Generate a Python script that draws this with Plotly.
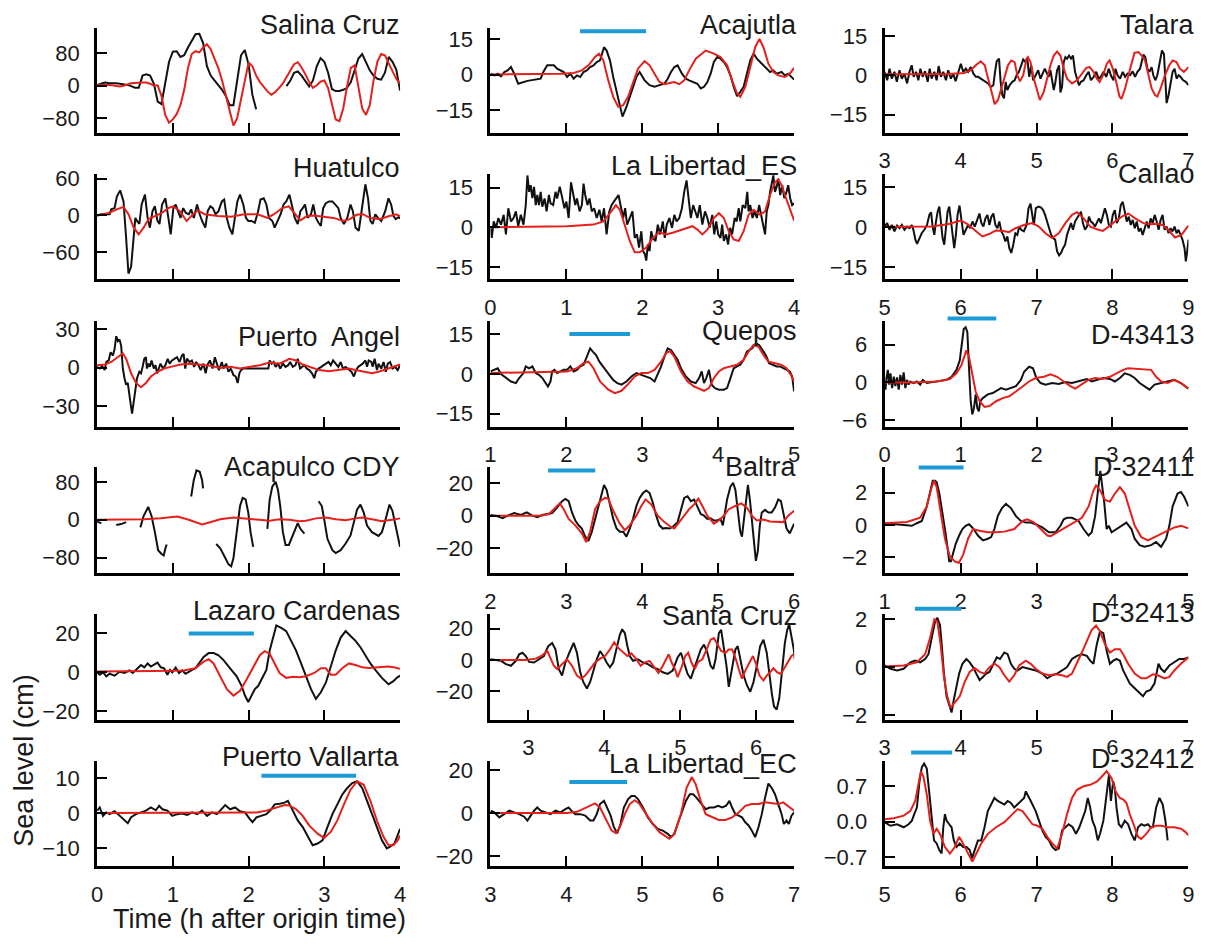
import plotly.graph_objects as go

# ------------------------------------------------------------------ data
# Salina Cruz on a regular 0.05 h grid (None = gap in the record)
salina_t = [round(0.05 * i, 2) for i in range(81)]
salina_obs = [2, 6, 8, 7, 7, 6, 5, 4, 2, -1,
              -5, -5, 25, 28, 25, 5, -39, -45, 5, 59,
              84, 85, 71, 75, 94, 112, 127, 128, 105, 48,
              25, 13, 2, -10, -25, -48, -48, 13, 75, 88,
              52, -22, -58, None, None, None, None, None, None, None,
              -1, 12, 32, 35, 25, 12, -2, 13, 48, 68,
              59, 32, -8, -13, -13, -10, -5, 9, 36, 67,
              78, 59, 38, 25, 17, 15, 32, 71, 59, 40, -12]
salina_sim = [2, 2, 3, 2, 1, -1, -2, 0, 4, 6,
              7, 8, 8, 8, 5, 0, 1, -25, -72, -91,
              -83, -70, -48, -10, 44, 78, 85, 82, 94, 102,
              90, 67, 44, 13, -22, -64, -98, -79, -33, 17,
              57, 48, 25, 9, -2, -14, -22, -16, -6, 5,
              21, 36, 53, 58, 45, 28, 9, -5, 1, 10,
              13, -6, -48, -83, -87, -56, -2, 44, 50, -2,
              -56, -72, -48, 13, 59, 78, 75, 55, 36, 17, 5]

huatulco_obs = [(0, 0), (0.057, 2), (0.166, 2), (0.187, 10), (0.231, 12), (0.261, 31), (0.305, 41), (0.349, 23),
                (0.383, -36), (0.414, -95), (0.449, -84), (0.484, -25), (0.505, -4), (0.527, -9), (0.558, -14),
                (0.588, 18), (0.632, 34), (0.667, -4), (0.697, -20), (0.732, 7), (0.763, 15), (0.797, -9),
                (0.824, -14), (0.858, 18), (0.902, 28), (0.941, -4), (0.972, -31), (1.007, 12), (1.037, 18),
                (1.068, 7), (1.102, -4), (1.137, 12), (1.172, 4), (1.211, 2), (1.242, 10), (1.277, -4), (1.320, 18),
                (1.355, 2), (1.386, -9), (1.429, -20), (1.460, 7), (1.495, 15), (1.529, 12), (1.564, 2), (1.603, 7),
                (1.647, 23), (1.678, 26), (1.712, -4), (1.747, -20), (1.786, -31), (1.821, 2), (1.852, 23),
                (1.887, 34), (1.930, 18), (1.965, -4), (1.996, -9), (2.039, -9), (2.083, -12), (2.126, 7),
                (2.157, 26), (2.200, 28), (2.235, 18), (2.270, -4), (2.314, -9), (2.344, -20), (2.388, -9),
                (2.423, 2), (2.462, 18), (2.497, 23), (2.540, 34), (2.575, 12), (2.610, -4), (2.649, -14),
                (2.684, 7), (2.715, 12), (2.745, 18), (2.780, -4), (2.824, 2), (2.854, 18), (2.889, -4),
                (2.924, -12), (2.954, -17), (2.985, 12), (3.020, 20), (3.063, 23), (3.107, 23), (3.142, 18),
                (3.185, 12), (3.216, -4), (3.259, -14), (3.303, -4), (3.346, 18), (3.377, 7), (3.412, -20),
                (3.455, -25), (3.499, 18), (3.542, 51), (3.577, 28), (3.608, -9), (3.638, -14), (3.673, 2),
                (3.708, -4), (3.752, -9), (3.804, 7), (3.847, 28), (3.882, 18), (3.913, -1), (3.943, -6),
                (3.978, -3), (4.0, -5)]
huatulco_sim = [(0, 0), (0.151, 4), (0.261, 10), (0.349, 14), (0.414, 2), (0.484, -20), (0.549, -31), (0.614, -20),
                (0.680, -6), (0.767, -1), (0.854, 4), (0.941, 12), (1.007, 15), (1.094, 7), (1.181, -9), (1.268, 2),
                (1.333, 8), (1.420, 2), (1.595, -1), (1.769, -2), (1.943, 2), (2.118, 2), (2.248, -4), (2.335, 2),
                (2.444, 12), (2.531, 15), (2.618, 2), (2.684, -8), (2.771, -1), (2.858, 0), (2.989, -2),
                (3.120, -4), (3.250, -9), (3.337, -6), (3.425, 1), (3.512, 2), (3.599, -4), (3.730, -6),
                (3.860, -1), (3.948, 2), (4.0, -1)]

angel_obs = [(0, 0.5), (0.035, -0.8), (0.065, 1.3), (0.100, -2), (0.122, 4.3), (0.153, 5.5), (0.179, 11.8),
             (0.209, 9.3), (0.231, 14.3), (0.253, 24.3), (0.275, 20.5), (0.296, 21.8), (0.318, 16.8), (0.340, -0.8),
             (0.362, -8.3), (0.383, -13.3), (0.405, -12), (0.427, -23.3), (0.449, -30.8), (0.462, -35.8),
             (0.484, -25.8), (0.505, -15.8), (0.527, -8.3), (0.558, -3.3), (0.580, -4.5), (0.601, 0.5),
             (0.623, 6.8), (0.645, 8), (0.658, -0.8), (0.680, 3), (0.697, 0.5), (0.719, 5.5), (0.749, -0.8),
             (0.771, 1.8), (0.793, -4.5), (0.815, -0.8), (0.837, 3), (0.871, -0.8), (0.902, 1.8), (0.932, 6.8),
             (0.958, 3), (0.989, 5.5), (1.020, 6.8), (1.055, 8), (1.089, 4.3), (1.120, 9.3), (1.142, 10.5),
             (1.164, -0.8), (1.185, 6.8), (1.220, 4.3), (1.251, 5.5), (1.281, 0.5), (1.307, 4.3), (1.338, 1.8),
             (1.368, -2), (1.403, 3), (1.433, -4.5), (1.455, 1.8), (1.490, 5.5), (1.525, -0.8), (1.555, 8),
             (1.577, 4.3), (1.608, -2), (1.647, 4.3), (1.669, -0.8), (1.704, 3), (1.734, -3.3), (1.765, -0.8),
             (1.800, -5.8), (1.830, -7), (1.856, -12), (1.878, -4.5), (1.900, -2), (1.930, -0.8), (2.017, -0.8),
             (2.104, -0.8), (2.192, -0.8), (2.261, -0.8), (2.278, 5.5), (2.305, 3), (2.331, 4.3), (2.357, 0.5),
             (2.388, 3), (2.418, -0.8), (2.453, 3), (2.488, 0.5), (2.523, 1.8), (2.549, 4.3), (2.584, 0.5),
             (2.619, 1.8), (2.649, 6.8), (2.680, -0.8), (2.706, 0.5), (2.737, 1.8), (2.767, -0.8), (2.802, -2),
             (2.837, -4.5), (2.867, -8.3), (2.889, -3.3), (2.924, -0.8), (2.959, 0.5), (2.989, 1.8), (3.020, 3),
             (3.055, 4.3), (3.085, 1.8), (3.116, 5.5), (3.150, 3), (3.185, 0.5), (3.216, 4.3), (3.246, -0.8),
             (3.281, 0.5), (3.325, -2), (3.359, -3.3), (3.390, -7), (3.420, -2), (3.446, 0.5), (3.477, 1.8),
             (3.507, 3), (3.542, 5.5), (3.564, 0.5), (3.586, 5.5), (3.621, 4.3), (3.638, 0.5), (3.664, 6.8),
             (3.695, -2), (3.716, 3), (3.751, -0.8), (3.782, 4.3), (3.812, -3.3), (3.838, 3), (3.869, 4.3),
             (3.900, -0.8), (3.934, 0.5), (3.969, -2), (4.0, 1.8)]
angel_sim = [(0, 1.8), (0.1, 2.3), (0.187, 4.3), (0.275, 8), (0.340, 11), (0.383, 6.8), (0.449, -4.5),
             (0.514, -12), (0.580, -15.3), (0.645, -12), (0.711, -7), (0.798, -3.3), (0.885, -0.8), (0.972, 0.5),
             (1.102, 2.3), (1.233, 3), (1.364, 2.3), (1.494, 1.3), (1.625, -0.3), (1.756, 0.5), (1.887, -0.8),
             (2.017, 0.5), (2.148, 1.8), (2.279, 3.8), (2.409, 3), (2.540, 6.8), (2.627, 5.5), (2.715, 2.3),
             (2.802, 0.5), (2.933, -2), (3.063, -2.8), (3.194, -2), (3.325, -0.8), (3.412, -2), (3.499, -2.8),
             (3.629, -4.5), (3.716, -3.3), (3.847, -0.8), (3.934, 1.3), (4.0, 2.3)]

acapulco_obs = [(0.0, -4), (0.057, -7), (None, None),
                (0.253, -11), (0.318, -9), (0.384, -5), (None, None),
                (0.571, -16), (0.614, 8), (0.675, 27), (0.719, 8), (0.763, -26), (0.806, -64), (0.850, -72),
                (0.880, -75), (0.902, -60), (0.919, -52), (None, None),
                (1.242, 49), (1.277, 84), (1.312, 104), (1.355, 101), (1.386, 84), (1.399, 66), (None, None),
                (1.573, -51), (1.626, -60), (1.691, -80), (1.735, -94), (1.770, -98), (1.800, -81), (1.843, -26),
                (1.887, 29), (1.922, 46), (1.961, 43), (1.996, 15), (2.026, -26), (2.061, -57), (None, None),
                (2.248, -19), (2.278, 42), (2.313, 70), (2.357, 80), (2.388, 63), (2.418, 29), (2.453, -26),
                (2.488, -53), (2.532, -53), (2.567, -40), (2.606, -23), (2.649, -7), (2.684, -19), (2.737, -29),
                (None, None),
                (2.924, 39), (2.967, 29), (2.998, 1), (3.041, -40), (3.107, -64), (3.150, -70), (3.216, -64),
                (3.281, -50), (3.346, -33), (3.390, -5), (3.433, 22), (3.477, 32), (3.521, 15), (3.564, -12),
                (3.629, -26), (3.716, -34), (3.760, -26), (3.804, -2), (3.860, 32), (3.899, 19), (3.943, -12),
                (4.0, -57)]
acapulco_sim = [(0, 0), (0.318, 0), (0.624, 1), (0.841, 3), (1.059, 7), (1.190, 1), (1.320, -7), (1.386, -10),
                (1.494, -5), (1.625, 1), (1.800, 5), (1.974, 3), (2.148, 1), (2.279, -2), (2.409, 1), (2.540, 0),
                (2.671, -3), (2.758, -2), (2.889, 3), (3.020, 5), (3.150, 1), (3.281, -1), (3.412, 3), (3.499, 5),
                (3.629, 1), (3.760, -3), (3.891, 0), (4.0, 3)]

lazaro_obs = [(0, 0), (0.035, -1.2), (0.078, 0), (0.122, -2), (0.166, -0.7), (0.231, -1.7), (0.296, 0.3),
              (0.362, -0.3), (0.427, 1), (0.471, -0.3), (0.536, 2.1), (0.580, 3.8), (0.623, 2.6), (0.667, 4.6),
              (0.710, 3), (0.754, 3.8), (0.797, 5), (0.841, 2.6), (0.885, 2.1), (0.928, -1.2), (0.963, 1.3),
              (0.993, 0), (1.037, 2.5), (1.081, -0.3), (1.124, 1), (1.168, -0.7), (1.211, 0.5), (1.255, 1.3),
              (1.298, 2.1), (1.342, 4.6), (1.407, 7.9), (1.473, 9.9), (1.538, 9.9), (1.603, 8.8), (1.669, 6.3),
              (1.756, 2.1), (1.843, -2), (1.909, -7), (1.952, -11.9), (1.996, -15.2), (2.039, -11.9),
              (2.083, -8.6), (2.126, -7), (2.170, -3.6), (2.235, 1.3), (2.279, 11.2), (2.322, 17.9),
              (2.366, 24.1), (2.431, 22.8), (2.497, 21.2), (2.562, 16.2), (2.627, 11.2), (2.693, 4.6),
              (2.758, -2), (2.824, -8.6), (2.889, -13.6), (2.954, -10.2), (3.020, -5.3), (3.085, 3),
              (3.150, 11.2), (3.216, 17.9), (3.281, 21.2), (3.346, 18.7), (3.412, 16.2), (3.477, 12.9),
              (3.542, 8.8), (3.608, 4.6), (3.673, 1.3), (3.760, -2.8), (3.847, -6.1), (3.912, -4.5),
              (3.956, -2.8), (4.0, -1.7)]
lazaro_sim = [(0, 0.5), (0.318, 0.5), (0.753, 0.7), (1.145, 1), (1.298, 2.1), (1.407, 5.5), (1.473, 6.8),
              (1.538, 4.6), (1.626, -2), (1.713, -8.6), (1.800, -11.9), (1.887, -9.4), (1.974, -3.6), (2.061, 3),
              (2.148, 8.8), (2.213, 10.9), (2.279, 9.6), (2.344, 4.6), (2.409, -0.3), (2.497, -2.8),
              (2.584, -2.3), (2.671, -2.5), (2.758, -2), (2.867, -0.3), (2.954, 2.1), (3.020, 2.1),
              (3.085, -1.2), (3.150, -1.2), (3.237, 2.1), (3.325, 4.6), (3.412, 3.8), (3.499, 2.6), (3.586, 2.3),
              (3.716, 2.6), (3.847, 3), (3.934, 2.5), (4.0, 1.8)]

vallarta_obs = [(0, 0.7), (0.035, 1.6), (0.078, -0.8), (0.122, 0.2), (0.166, -0.3), (0.231, 0.5), (0.275, -0.3),
                (0.318, -1.2), (0.362, -2.1), (0.405, -2.9), (0.449, -1.2), (0.514, -0.3), (0.580, 0.2),
                (0.645, 0.7), (0.710, 1.6), (0.776, 0.8), (0.819, 2.1), (0.863, 1.1), (0.928, 0.7), (0.993, -0.8),
                (1.059, -0.3), (1.124, -0.1), (1.190, -0.5), (1.255, 0.2), (1.320, -0.3), (1.386, 0.7),
                (1.451, -0.8), (1.516, 0.2), (1.582, -0.3), (1.647, 1.1), (1.691, 2.3), (1.756, 1.1), (1.821, 1.6),
                (1.887, 0.5), (1.952, 0.2), (2.017, -1.7), (2.052, -2.6), (2.104, -1.2), (2.170, -0.8),
                (2.235, -0.3), (2.300, 1.1), (2.344, 2.5), (2.409, 2.7), (2.475, 3.0), (2.519, 3.5), (2.584, 0.7),
                (2.649, -2.1), (2.715, -4.0), (2.780, -6.8), (2.846, -9.2), (2.911, -8.7), (2.976, -7.8),
                (3.041, -4.0), (3.107, -0.3), (3.172, 2.5), (3.237, 5.3), (3.303, 7.2), (3.368, 8.6),
                (3.433, 9.1), (3.499, 7.2), (3.564, 3.5), (3.629, -0.3), (3.695, -4.0), (3.760, -7.8),
                (3.825, -10.1), (3.869, -9.6), (3.926, -8.7), (3.969, -6.4), (4.0, -4.5)]
vallarta_sim = [(0, 0), (0.972, 0), (1.843, 0), (2.104, 0.2), (2.235, 0.7), (2.366, 1.6), (2.475, 2.3),
                (2.540, 2.2), (2.627, 1.1), (2.715, -0.8), (2.802, -3.6), (2.911, -5.9), (2.998, -7.1),
                (3.085, -5.4), (3.172, -2.1), (3.259, 2.5), (3.346, 6.7), (3.433, 9.1), (3.520, 8.1), (3.608, 3.5),
                (3.695, -2.2), (3.782, -6.8), (3.847, -9.2), (3.912, -9.2), (3.969, -7.8), (4.0, -6.4)]

acajutla_obs = [(0, 0.4), (0.052, -0.3), (0.096, 0.4), (0.139, -0.7), (0.183, 1.1), (0.226, 1.8), (0.270, 3.2),
                (0.313, 0.4), (0.365, -3.8), (0.487, -2.6), (0.661, -1.7), (0.696, 1.1), (0.748, 3.9),
                (0.835, 3.9), (0.878, 2.5), (0.922, 1.8), (0.965, 1.1), (1.009, -1), (1.052, 0.4), (1.096, -1.7),
                (1.139, -0.3), (1.183, -1), (1.226, 1.1), (1.270, 1.8), (1.313, 3.2), (1.357, 3.9), (1.400, 5.3),
                (1.443, 6), (1.496, 11.5), (1.530, 10.1), (1.574, 6), (1.617, -1), (1.683, -10.7), (1.739, -17.6),
                (1.791, -13.5), (1.835, -9.3), (1.878, -5.1), (1.922, -1), (1.965, 1.1), (2.030, -2.4),
                (2.096, -4.4), (2.161, -5.1), (2.226, -4.4), (2.291, -3.8), (2.335, -1.7), (2.378, 1.1),
                (2.422, 3.2), (2.465, 3.9), (2.522, 0.4), (2.574, -1.7), (2.617, -2.4), (2.661, -3.1),
                (2.726, -3.8), (2.770, -5.8), (2.813, -5.1), (2.857, -3.1), (2.900, 0.4), (2.943, 5.3),
                (2.987, 7.4), (3.030, 6.7), (3.074, 5.3), (3.117, 3.2), (3.161, -0.3), (3.204, -5.1), (3.248, -9),
                (3.291, -7.2), (3.335, -5.1), (3.378, 0.4), (3.422, 6), (3.465, 8.8), (3.509, 6.7), (3.552, 5.3),
                (3.596, 3.9), (3.639, 2.5), (3.683, 1.1), (3.726, 1.8), (3.770, 0.4), (3.835, 1.1), (3.878, -0.3),
                (3.922, 0.4), (3.965, -1), (4.0, -2.1)]
acajutla_sim = [(0, 0.1), (0.574, 0.1), (0.922, 0.4), (1.096, 0.7), (1.204, 1.8), (1.291, 3.9), (1.378, 7.4),
                (1.430, 8.8), (1.487, 6), (1.552, -2.4), (1.617, -9.3), (1.683, -13.5), (1.748, -12.8),
                (1.813, -9.3), (1.878, -3.8), (1.943, 2.5), (2.030, 5.7), (2.096, 3.9), (2.161, 0.4),
                (2.226, -3.1), (2.291, -4), (2.357, -3.5), (2.422, -3.1), (2.487, -4), (2.552, -2.4), (2.617, 1.8),
                (2.704, 6.7), (2.835, 10.1), (2.943, 8.8), (3.030, 7.4), (3.117, 3.9), (3.183, -2.4),
                (3.248, -7.9), (3.291, -9.3), (3.357, -5.1), (3.422, 3.2), (3.487, 11.5), (3.543, 15),
                (3.596, 11.5), (3.661, 4.6), (3.726, 1.1), (3.791, -0.3), (3.878, -1), (3.943, 0.4), (4.0, 2.8)]

libertad_es_obs = [(0, 0), (0.017, -4), (0.043, 2.2), (0.074, -0.2), (0.104, 3.5), (0.139, 1), (0.174, 4.7),
                   (0.204, -2.7), (0.235, 7.2), (0.270, 2.2), (0.304, 3.5), (0.335, 6), (0.365, 0.4), (0.400, 4.7),
                   (0.435, 1), (0.465, 8.4), (0.487, 19.6), (0.509, 13.4), (0.530, 15.9), (0.552, 11),
                   (0.574, 15.3), (0.596, 8.4), (0.617, 12.2), (0.639, 8.4), (0.661, 13.4), (0.683, 7.8),
                   (0.713, 10.9), (0.739, 6), (0.770, 12.2), (0.791, 9.1), (0.826, 8.4), (0.857, 13.4),
                   (0.878, 10.9), (0.913, 15.3), (0.943, 11.5), (0.974, 7.2), (1.000, 9.7), (1.030, 3.5),
                   (1.061, 17), (1.087, 13.4), (1.117, 8.4), (1.139, 10.9), (1.174, 6), (1.204, 8.4), (1.226, 16.5),
                   (1.248, 12.2), (1.278, 8.4), (1.304, 10.9), (1.335, 6), (1.365, 7.2), (1.400, 3.5), (1.435, 6.6),
                   (1.465, 2.2), (1.496, 7.2), (1.530, -2.7), (1.565, 6), (1.596, 8.4), (1.626, 9.7), (1.661, 10.9),
                   (1.687, 12.2), (1.713, 8.4), (1.748, 3.5), (1.774, 7.2), (1.800, 1), (1.835, 3.5), (1.870, 6),
                   (1.900, -4), (1.930, -2.7), (1.957, -7.7), (1.987, -1.5), (2.009, -9), (2.035, -10.2),
                   (2.052, -12.6), (2.074, -6.5), (2.096, -9), (2.117, -1.5), (2.139, -4), (2.174, -5.2), (2.204, 1),
                   (2.235, -2.7), (2.270, 2.2), (2.296, -4), (2.322, 1), (2.357, 3.5), (2.391, -0.2), (2.422, 4.7),
                   (2.452, 2.2), (2.487, 3.5), (2.522, 7.2), (2.552, 13.4), (2.583, 17.7), (2.609, 11), (2.639, 3.5),
                   (2.670, 8.4), (2.696, 6), (2.726, 3.5), (2.757, 8.4), (2.791, 1), (2.826, 6), (2.857, 3.5),
                   (2.887, -0.2), (2.922, 4.7), (2.948, -2.7), (2.974, 2.2), (3.000, -2.7), (3.030, -4), (3.052, 1),
                   (3.074, -5.2), (3.104, -2.7), (3.130, -6.5), (3.157, -0.2), (3.183, -2.7), (3.217, 3.5),
                   (3.243, 2.2), (3.270, 7.2), (3.291, 2.2), (3.322, 8.4), (3.357, 7.2), (3.383, 13.4), (3.400, 6),
                   (3.422, 8.4), (3.452, 3.5), (3.478, 6), (3.509, 3.5), (3.539, 8.4), (3.565, 4.7), (3.591, 1),
                   (3.617, -2.7), (3.639, 6), (3.661, 8.4), (3.683, 13.4), (3.704, 15.9), (3.726, 19.6),
                   (3.748, 13.4), (3.770, 15.3), (3.791, 18.4), (3.817, 12.2), (3.843, 15.9), (3.870, 11),
                   (3.900, 13.4), (3.922, 15.9), (3.948, 11), (3.974, 8.4), (4.000, 9.1)]
libertad_es_sim = [(0, 0), (0.574, 0.1), (1.009, 0.4), (1.357, 1), (1.487, 2.2), (1.574, 5.3), (1.652, 8.4),
                   (1.704, 6.6), (1.770, 1), (1.835, -5.2), (1.900, -9.5), (1.965, -9.5), (2.052, -7.7),
                   (2.139, -4), (2.226, -1.9), (2.313, -2.7), (2.400, -2.1), (2.487, -1.2), (2.574, -0.2),
                   (2.661, 0.4), (2.726, -0.9), (2.791, -2.7), (2.857, -0.9), (2.943, 3.5), (3.009, 5.3),
                   (3.074, 3.5), (3.139, -1.5), (3.204, -4.6), (3.270, -5.2), (3.335, -1.5), (3.400, 4.7),
                   (3.465, 6.6), (3.552, 4.7), (3.617, 6), (3.683, 12.2), (3.748, 17.1), (3.791, 18.1),
                   (3.835, 15.9), (3.878, 12.2), (3.922, 8.4), (3.965, 4.7), (4.0, 2.5)]

quepos_obs = [(1.000, 0.9), (1.052, 1.5), (1.096, 2.1), (1.139, -0.1), (1.204, -1.6), (1.270, -2.9), (1.335, -3.5),
              (1.378, -1.6), (1.435, 0.3), (1.465, 2.8), (1.509, 2.1), (1.552, 2.8), (1.596, 0.3), (1.639, -0.4),
              (1.683, -1.6), (1.726, -3.5), (1.757, -4.8), (1.791, -2.9), (1.813, 0.9), (1.843, 1.5),
              (1.878, 0.3), (1.922, 0.9), (1.965, 1.5), (2.009, 1.5), (2.052, 2.8), (2.096, 0.9), (2.139, 1.5),
              (2.183, 2.8), (2.226, 3.4), (2.270, 6.5), (2.313, 9.6), (2.348, 8.4), (2.391, 7.1), (2.435, 4.6),
              (2.478, 2.8), (2.522, 0.9), (2.565, -0.4), (2.617, -2.3), (2.670, -3.5), (2.726, -4.1),
              (2.791, -2.9), (2.857, -1), (2.922, 0.3), (2.987, -0.4), (3.052, -1), (3.104, -1.6), (3.161, -2.9),
              (3.204, -0.4), (3.248, 2.8), (3.291, 6.5), (3.335, 9.6), (3.378, 9), (3.422, 7.1), (3.465, 5.3),
              (3.509, 2.1), (3.574, -1), (3.639, -2.9), (3.704, -3.5), (3.748, -1.6), (3.783, 0.9),
              (3.813, -3.5), (3.843, -1.6), (3.878, 1.5), (3.913, -4.1), (3.957, -5.4), (4.009, -6),
              (4.074, -6), (4.117, -5.4), (4.161, -1.6), (4.204, 2.1), (4.248, 2.8), (4.291, 3.4), (4.335, 5.3),
              (4.378, 8.4), (4.443, 9.6), (4.496, 11.5), (4.539, 10.9), (4.583, 9), (4.626, 7.1), (4.670, 4),
              (4.713, 3.4), (4.770, 2.8), (4.813, 2.8), (4.857, 2.1), (4.900, 1.5), (4.943, 0.9), (4.974, -1),
              (5.000, -6.6)]
quepos_sim = [(1.0, 0.3), (1.574, 0.5), (2.009, 0.9), (2.139, 2.1), (2.226, 4), (2.291, 4.6), (2.357, 2.1),
              (2.443, -2.9), (2.552, -6), (2.639, -7.3), (2.726, -6.4), (2.813, -3.9), (2.900, -1), (2.987, 0.3),
              (3.074, 0.3), (3.161, 1.5), (3.248, 4.6), (3.313, 7.8), (3.365, 8.6), (3.422, 6.5), (3.509, 0.9),
              (3.596, -2.9), (3.683, -4.8), (3.748, -5.6), (3.813, -6.4), (3.878, -5.4), (3.943, -1.6),
              (4.009, 0.9), (4.074, 2.1), (4.161, 2.8), (4.248, 3.4), (4.335, 5.3), (4.400, 8.4), (4.465, 10.9),
              (4.530, 10.3), (4.596, 7.1), (4.661, 4.6), (4.748, 4), (4.835, 3.4), (4.900, 2.1), (4.957, -0.4),
              (5.0, -2.9)]

baltra_obs = [(2.000, 0.4), (2.096, -0.4), (2.161, -1.6), (2.226, 0), (2.313, 1.6), (2.400, 0.4), (2.478, 2),
              (2.552, 0), (2.617, -1), (2.683, 0.4), (2.748, 1), (2.813, 1.6), (2.878, 5), (2.943, 9),
              (2.987, 10.4), (3.030, 9), (3.074, 2), (3.117, -3), (3.161, -6), (3.204, -8), (3.248, -13),
              (3.291, -15.6), (3.335, -10), (3.378, -2), (3.422, 6), (3.465, 15), (3.496, 19), (3.530, 16),
              (3.574, 6), (3.617, -2), (3.661, -8), (3.704, -10), (3.748, -10), (3.791, -13), (3.835, -8),
              (3.878, -2), (3.922, 6), (3.965, 11), (4.009, 14), (4.052, 15.6), (4.096, 14), (4.139, 8),
              (4.183, 0), (4.226, -6), (4.270, -8), (4.313, -7.6), (4.357, -8), (4.400, -7), (4.465, -4),
              (4.509, 4), (4.552, 11), (4.596, 12), (4.639, 9), (4.683, 10), (4.726, 5), (4.770, 1), (4.813, 0),
              (4.857, -2), (4.900, -1.6), (4.943, -3), (4.987, -3), (5.030, -2), (5.061, -6), (5.087, 2),
              (5.117, 10), (5.161, 18), (5.196, 20.4), (5.226, 16), (5.261, 2), (5.291, -10), (5.313, -13),
              (5.339, -2), (5.365, 12), (5.391, 19), (5.417, 10), (5.443, -4), (5.470, -18), (5.496, -28),
              (5.522, -22), (5.548, -6), (5.574, 2), (5.617, 3.6), (5.661, 2), (5.704, 2), (5.748, 5),
              (5.791, 10), (5.826, 9), (5.857, 2), (5.900, -8), (5.943, -11), (5.974, -8), (6.000, -5)]
baltra_sim = [(2.0, 0), (2.357, 0), (2.661, 0), (2.770, 1), (2.857, 5), (2.913, 7.6), (2.965, 4), (3.030, -2),
              (3.117, -6), (3.204, -11), (3.261, -16.4), (3.313, -10), (3.378, 4), (3.443, 9), (3.509, 11),
              (3.552, 10.6), (3.617, 3), (3.704, -5), (3.770, -9), (3.835, -6), (3.922, 0), (3.987, 6),
              (4.043, 10), (4.117, 7), (4.204, 0), (4.291, -4), (4.378, -7), (4.422, -8), (4.487, -4), (4.552, 0),
              (4.617, 4), (4.683, 7), (4.739, 10.6), (4.791, 6), (4.857, 0), (4.943, -5), (5.009, -3),
              (5.074, 0), (5.139, 4), (5.226, 6), (5.304, 7.6), (5.378, 5), (5.443, 0), (5.509, -3),
              (5.596, -2.4), (5.683, -3.6), (5.770, -3.6), (5.857, -4), (5.922, 0), (6.0, 3)]

santacruz_obs = [(2.496, 0.4), (2.574, 0), (2.639, -0.6), (2.704, -2.7), (2.770, -3.8), (2.835, -0.6), (2.878, 3.6),
                 (2.922, 4.6), (2.965, 2.5), (3.009, -1.3), (3.074, -1.7), (3.139, 0.4), (3.204, 2.5),
                 (3.261, 8.8), (3.313, 10.9), (3.357, 6.7), (3.400, -5.9), (3.443, -10.1), (3.487, -1.7),
                 (3.539, 4.6), (3.596, 10.9), (3.639, 4.6), (3.683, -8), (3.722, -14.2), (3.770, -18.4),
                 (3.813, -14.2), (3.857, -5.9), (3.900, 0.4), (3.944, 5.7), (3.987, 2.5), (4.030, -1.7),
                 (4.074, -4.8), (4.117, -1.7), (4.161, 6.7), (4.204, 16.1), (4.235, 19.7), (4.270, 17.2),
                 (4.304, 8.8), (4.335, 2.5), (4.378, -0.6), (4.443, 0.4), (4.509, -1.7), (4.574, -2.7),
                 (4.639, -4.8), (4.704, -5.9), (4.770, -8), (4.835, -9), (4.900, -6.9), (4.965, 1.5),
                 (5.009, 4.6), (5.052, -1.7), (5.096, -9), (5.139, -12.1), (5.183, -5.9), (5.226, 0.4),
                 (5.270, 6.7), (5.313, 9.8), (5.357, 4.6), (5.400, -3.8), (5.435, -5.9), (5.465, 0.4),
                 (5.509, 17.2), (5.539, 19.3), (5.574, 8.8), (5.609, -3.8), (5.639, -17.4), (5.683, -5.9),
                 (5.726, 6.7), (5.757, 8.8), (5.791, 0.4), (5.835, -10.1), (5.878, -16.3), (5.922, -20.5),
                 (5.965, -14.2), (6.009, -3.8), (6.052, 8.8), (6.096, 13), (6.139, 4.6), (6.174, -10.1),
                 (6.209, -22.6), (6.235, -30), (6.270, -32), (6.304, -24.7), (6.339, -5.9), (6.378, 10.9),
                 (6.409, 19.3), (6.435, 23), (6.465, 15), (6.496, 6.7), (6.509, 0.4)]
santacruz_sim = [(2.496, 0), (2.704, 0), (2.965, 0), (3.096, 0.8), (3.183, 2.9), (3.248, 5.7), (3.291, 1.5),
                 (3.335, -3.8), (3.378, -5.9), (3.443, -2.7), (3.509, 0.4), (3.574, -3.8), (3.639, -10.1),
                 (3.696, -12.1), (3.748, -10.1), (3.813, -5.9), (3.878, -1.7), (3.944, 0.8), (4.009, 2.5),
                 (4.074, 6.7), (4.130, 11.3), (4.183, 7.7), (4.248, 4.6), (4.304, 2.5), (4.357, 4.2),
                 (4.422, 0.4), (4.478, -3.8), (4.530, -1.7), (4.596, -0.6), (4.661, -4.8), (4.713, -8.4),
                 (4.770, -3.8), (4.813, 0.4), (4.848, 3.6), (4.887, -1.7), (4.930, -5.9), (4.965, -11.1),
                 (5.017, -4.8), (5.065, 2.5), (5.104, 4.6), (5.148, -1.7), (5.191, -5.9), (5.235, -1.3),
                 (5.291, 0.4), (5.348, 6.7), (5.400, 13), (5.443, 14), (5.487, 9.8), (5.539, 5.7), (5.596, 4.6),
                 (5.639, 6.7), (5.683, 6.7), (5.726, 1.5), (5.770, -5.9), (5.813, -12.1), (5.857, -6.9),
                 (5.913, -1.7), (5.957, 2.5), (6.000, -2.7), (6.043, -10.1), (6.096, -13.2), (6.139, -10.1),
                 (6.183, -8), (6.226, -5.4), (6.278, -8), (6.326, -9), (6.378, -4.8), (6.422, -0.6),
                 (6.465, 2.5), (6.496, 3.6)]

libertad_ec_obs = [(3.000, 1.1), (3.052, 0.3), (3.117, -2), (3.183, -0.5), (3.248, 1.1), (3.313, 0.3),
                   (3.378, -0.5), (3.443, -1.7), (3.487, -3.5), (3.530, -1.2), (3.574, 1.1), (3.617, 2.6),
                   (3.661, 1.1), (3.726, 0.3), (3.791, -0.5), (3.857, 1.1), (3.922, 0.3), (3.987, 1.8),
                   (4.030, 2.6), (4.074, 0.8), (4.117, -0.5), (4.183, -0.5), (4.248, -1.2), (4.313, -3.5),
                   (4.357, -3.5), (4.400, -0.5), (4.443, 4.2), (4.496, 5.7), (4.539, 2.6), (4.583, -1.2),
                   (4.626, -6.6), (4.670, -9.4), (4.713, -5.1), (4.757, 2.6), (4.813, 6.5), (4.857, 8), (4.900, 8),
                   (4.943, 6.5), (5.009, 2.6), (5.074, -2), (5.139, -5.1), (5.204, -7.4), (5.270, -8.2),
                   (5.335, -9.7), (5.378, -11.2), (5.422, -9.7), (5.465, -5.1), (5.522, 1.1), (5.574, 5.7),
                   (5.626, 8.8), (5.670, 8.8), (5.713, 7.2), (5.748, 5.7), (5.791, 4.2), (5.835, 1.8),
                   (5.887, 2.6), (5.943, 2.6), (6.000, 3.4), (6.052, 2.6), (6.104, 3.4), (6.148, 5.7),
                   (6.183, 2.6), (6.226, -0.5), (6.270, -1.2), (6.313, -2), (6.357, -4.3), (6.400, -5.8),
                   (6.443, -8.2), (6.487, -11.2), (6.530, -6.6), (6.574, -0.5), (6.617, 7.2), (6.661, 13.8),
                   (6.704, 11.8), (6.748, 8.8), (6.791, 4.2), (6.835, -0.5), (6.865, -5.1), (6.900, -3.5),
                   (6.930, -5.1), (6.965, -1.2), (7.000, 0.3)]
libertad_ec_sim = [(3.0, 0), (3.574, 0), (4.009, 0), (4.139, 0.6), (4.270, 2.6), (4.378, 4.5), (4.443, 2.6),
                   (4.530, -3.5), (4.596, -8.2), (4.652, -9.4), (4.704, -6.6), (4.770, -0.5), (4.835, 4.2),
                   (4.900, 6), (4.965, 4.2), (5.052, -0.5), (5.139, -5.1), (5.226, -8.9), (5.313, -11.2),
                   (5.357, -12), (5.422, -9.7), (5.509, -0.5), (5.583, 11.8), (5.652, 16.8), (5.704, 13.4),
                   (5.770, 5.7), (5.835, -0.5), (5.922, -2), (6.009, -3.2), (6.096, -3.2), (6.183, -2),
                   (6.270, 0.3), (6.357, 3.4), (6.443, 4.2), (6.530, 4.2), (6.617, 5), (6.704, 4.5), (6.791, 4.2),
                   (6.857, 5), (6.922, 3.4), (7.0, 1.1)]

talara_obs = [(3.000, 1.3), (3.035, -1.9), (3.066, 2.5), (3.096, -1.3), (3.131, 1.3), (3.162, -2.5), (3.197, 1.9),
              (3.227, -1.3), (3.262, 0.6), (3.297, -3.1), (3.328, 1.3), (3.358, 3.8), (3.384, -0.6), (3.415, 1.3),
              (3.445, -1.9), (3.472, 2.5), (3.502, -0.6), (3.533, 1.5), (3.568, -2.5), (3.594, 2.5),
              (3.620, -1.3), (3.655, 1.3), (3.686, -1.9), (3.712, 3.5), (3.742, -0.6), (3.773, 1.3),
              (3.808, -1.9), (3.838, 1.9), (3.873, -1.3), (3.904, 0.6), (3.935, -2.3), (3.969, 1.3), (4.004, 4.4),
              (4.035, 1.3), (4.070, 2.5), (4.100, 1.3), (4.135, 3.1), (4.170, 0.6), (4.201, -0.6), (4.231, -0.6),
              (4.266, -1.3), (4.301, -1.9), (4.332, -2.5), (4.362, -3.1), (4.397, -4.4), (4.432, -3.8),
              (4.454, 1.3), (4.476, 5.3), (4.507, 6.3), (4.528, -2.5), (4.550, -7.5), (4.572, -8.8),
              (4.594, -2.5), (4.616, -5.6), (4.646, -3.8), (4.681, -2.5), (4.712, -1.9), (4.738, 0),
              (4.769, 1.3), (4.799, 3.8), (4.825, 6), (4.856, 5), (4.878, 6.5), (4.904, -0.6), (4.930, 3.8),
              (4.956, -1.9), (4.991, 0), (5.022, 1.9), (5.052, -1.3), (5.079, 0.6), (5.109, 2.5), (5.140, 0.6),
              (5.162, -0.6), (5.183, 1.9), (5.205, -1.9), (5.227, -5.6), (5.249, -2.5), (5.271, 1.9),
              (5.297, 3.8), (5.315, -6.5), (5.336, -4.4), (5.358, 5), (5.380, 6.9), (5.402, 6.3), (5.428, 7.5),
              (5.454, 6.3), (5.480, 7.5), (5.507, 1.3), (5.533, -1.3), (5.559, -3.8), (5.585, -2.5),
              (5.620, -1.9), (5.655, 0), (5.686, 1.3), (5.716, -1.9), (5.751, -0.6), (5.786, 1.3),
              (5.817, -1.3), (5.847, -0.6), (5.882, 1.3), (5.917, -0.6), (5.952, 2.5), (5.978, 0),
              (6.013, -1.9), (6.039, 2.5), (6.066, 0), (6.100, -1.3), (6.135, 1.3), (6.166, -0.6), (6.197, 0.6),
              (6.232, 0), (6.266, 1.5), (6.297, -0.6), (6.328, 1.3), (6.362, 2.5), (6.384, 5.6), (6.406, 7.8),
              (6.432, 6.9), (6.459, 2.5), (6.485, 1.3), (6.515, 3.1), (6.537, 0), (6.563, -1.9), (6.590, 0),
              (6.625, 5.6), (6.651, 9.4), (6.677, 8.1), (6.694, -2.5), (6.712, -10.6), (6.738, -7.5),
              (6.764, -2.5), (6.791, 1.3), (6.817, 2.5), (6.843, -1.3), (6.869, 0), (6.895, -0.6), (6.930, -1.9),
              (6.965, -2.5), (7.000, -3.8)]
talara_sim = [(3.000, 0.4), (3.393, 0.4), (3.830, 0.5), (4.048, 0.9), (4.135, 1.9), (4.201, 3.8), (4.266, 5.3),
              (4.319, 3.8), (4.362, -1.3), (4.406, -6.9), (4.450, -11), (4.493, -9.4), (4.537, -5), (4.581, 0),
              (4.625, 3.8), (4.668, 5.6), (4.712, 5), (4.747, 0), (4.782, -2.3), (4.825, 0), (4.869, 6.3),
              (4.887, 6.9), (4.921, 5), (4.965, -1.3), (5.009, -6.3), (5.044, -9.4), (5.096, -6.3),
              (5.140, -1.3), (5.183, 3.8), (5.227, 7.5), (5.271, 9), (5.314, 7.5), (5.358, 2.5), (5.402, -1.3),
              (5.467, -3.1), (5.533, -1.9), (5.598, 0.6), (5.655, 2.8), (5.699, 3.1), (5.751, 1.3),
              (5.795, -1.3), (5.830, -2.5), (5.874, 0), (5.926, 4.4), (5.961, 5.6), (6.004, 2.5), (6.048, -2.5),
              (6.092, -8.1), (6.118, -9), (6.166, -5), (6.210, 0), (6.253, 5), (6.288, 8.5), (6.341, 8.8),
              (6.384, 7.5), (6.428, 5.6), (6.472, 0), (6.515, -5), (6.559, -7.5), (6.590, -8.1), (6.633, -5),
              (6.690, 0), (6.747, 3.8), (6.790, 5.6), (6.843, 5), (6.887, 2.5), (6.939, 1.3), (6.974, 2.5),
              (7.000, 3.1)]

callao_obs = [(5.000, 0.1), (5.035, 1.4), (5.066, -1.1), (5.096, 0.7), (5.131, -1.7), (5.166, 0.5), (5.197, -0.5),
              (5.227, 0.7), (5.262, -1.1), (5.297, 0.1), (5.328, -0.5), (5.358, 0.7), (5.380, -1.1),
              (5.406, -4.8), (5.428, -6.4), (5.459, -4.2), (5.489, -2.4), (5.524, -1.1), (5.559, 0.7),
              (5.590, 4.5), (5.612, 5.5), (5.633, 0.1), (5.655, -3), (5.677, 2), (5.699, 5.7), (5.721, 7.6),
              (5.742, 0.7), (5.764, -4.2), (5.786, -6.7), (5.808, -0.5), (5.830, 5.7), (5.852, 7.6), (5.873, 3.2),
              (5.895, -2.4), (5.917, -8), (5.939, -3), (5.961, 4.5), (5.987, 8), (6.013, 2), (6.039, -3),
              (6.070, -1.1), (6.100, 0.7), (6.127, -0.5), (6.157, 2), (6.188, 0.1), (6.223, 3.2), (6.249, 5),
              (6.275, 1.4), (6.301, 0.1), (6.328, 3.2), (6.354, 4.5), (6.380, 0.7), (6.406, 3.8), (6.432, 5),
              (6.459, 0.7), (6.485, -0.5), (6.511, 2), (6.537, -1.7), (6.563, -3), (6.590, -5.5), (6.616, -3.6),
              (6.642, -8), (6.668, -9.8), (6.694, -6.7), (6.721, -2.4), (6.747, -3), (6.773, 0.1), (6.799, -1.1),
              (6.834, -1.7), (6.869, 0.7), (6.895, 7), (6.921, 8.7), (6.943, 4.5), (6.965, 0.7), (6.991, 7),
              (7.026, 7.6), (7.061, 7.2), (7.087, 6.3), (7.113, 4.5), (7.140, 1.4), (7.166, -0.5), (7.192, -3),
              (7.218, -4.2), (7.245, -4.8), (7.271, -9.2), (7.297, -10.7), (7.323, -9.8), (7.349, -8),
              (7.376, -6.7), (7.402, -3), (7.428, -1.1), (7.454, 1.4), (7.480, -1.1), (7.507, 2), (7.533, 3.2),
              (7.559, 4.5), (7.585, 5.7), (7.611, 1.4), (7.638, -1.1), (7.664, 0.1), (7.690, 3.8), (7.716, 2),
              (7.742, 1.4), (7.769, 0.1), (7.795, 2), (7.821, 3.2), (7.847, 1.4), (7.873, 3.8), (7.900, 7),
              (7.926, 4.5), (7.952, 0.7), (7.978, 0.1), (8.004, 4.5), (8.031, 6.3), (8.057, 1.4), (8.083, 3.2),
              (8.109, 8.2), (8.135, 9.4), (8.162, 5.7), (8.188, 2), (8.214, 3.8), (8.240, 0.7), (8.266, 2.6),
              (8.293, -0.5), (8.319, 2), (8.345, -1.7), (8.371, -0.5), (8.397, -3), (8.424, -0.5), (8.450, 2),
              (8.476, -0.5), (8.502, 3.2), (8.528, 1.4), (8.555, 4.5), (8.581, 2), (8.607, -1.1), (8.633, 2.6),
              (8.659, 4.5), (8.686, -1.1), (8.712, 0.1), (8.738, -2.4), (8.764, -0.5), (8.790, -1.7),
              (8.817, 0.1), (8.843, -2.4), (8.869, -1.1), (8.895, -3), (8.921, -4.8), (8.948, -8), (8.965, -13),
              (8.983, -9.2), (9.000, -4.8)]
callao_sim = [(5.000, 0), (5.393, 0), (5.611, 0.1), (5.830, 1), (5.939, 2), (6.004, 2.4), (6.092, 1),
              (6.201, -1.7), (6.288, -3.6), (6.376, -2.7), (6.463, -1.4), (6.550, -1.5), (6.638, -2),
              (6.725, -0.5), (6.834, 0.7), (6.943, 1.4), (7.031, 0.1), (7.118, -2.4), (7.205, -4.2),
              (7.293, -2.4), (7.380, 1.4), (7.467, 4.5), (7.533, 5.5), (7.620, 3.2), (7.707, 0.1), (7.795, -0.9),
              (7.873, -1.5), (7.969, 0.5), (8.057, 2.6), (8.144, 4.2), (8.210, 5), (8.297, 3.2), (8.406, 1.4),
              (8.493, 1), (8.581, 1.2), (8.659, 0.7), (8.734, -1.1), (8.821, -4), (8.908, -3), (8.974, -0.5),
              (9.000, 0.5)]

d43413_obs = [(0.000, 0), (0.013, -1.15), (0.026, 0.7), (0.043, 2), (0.061, -0.35), (0.078, 1.45), (0.100, -0.9),
              (0.122, 0.9), (0.143, -0.6), (0.165, 0.8), (0.187, -1.15), (0.208, 1.2), (0.230, -0.35),
              (0.252, 1.6), (0.274, -0.9), (0.295, 0.4), (0.317, -0.35), (0.339, 0.15), (0.382, -0.1),
              (0.426, 0.15), (0.469, -0.35), (0.504, 0.4), (0.556, -0.1), (0.643, 0.05), (0.730, 0.25),
              (0.817, 0.4), (0.882, 0.9), (0.947, 2), (0.990, 3.5), (1.021, 6.4), (1.042, 8.5), (1.068, 8.8),
              (1.090, 8), (1.112, 2.25), (1.134, -3), (1.155, -5.1), (1.177, -4.1), (1.199, -1.9), (1.221, -4.1),
              (1.242, -4.6), (1.259, -3), (1.294, -2.5), (1.359, -1.9), (1.424, -1.7), (1.490, -1.15),
              (1.533, -0.9), (1.598, -1.15), (1.663, -0.9), (1.729, -0.6), (1.794, 0.4), (1.837, 1.7),
              (1.902, 2.5), (1.954, 2.25), (1.998, 0.7), (2.054, -0.1), (2.119, -0.35), (2.206, -0.1),
              (2.293, -0.25), (2.380, 0.05), (2.467, -0.1), (2.532, 0.15), (2.597, 0.4), (2.662, 0.55),
              (2.727, 0.15), (2.793, 0.4), (2.879, 0.7), (2.966, 0.55), (3.031, 0.15), (3.097, 0.7),
              (3.162, 1.45), (3.227, 1.2), (3.292, 0.7), (3.357, -0.1), (3.422, -0.6), (3.487, -1.15),
              (3.553, -0.35), (3.640, -0.1), (3.726, 0.15), (3.813, 0.4), (3.900, -0.1), (3.965, -0.6),
              (4.000, -1)]
d43413_sim = [(0, 0), (0.382, 0), (0.686, 0.15), (0.860, 0.55), (0.947, 1.45), (1.012, 2.75), (1.055, 4.3),
              (1.077, 5.1), (1.112, 4.05), (1.155, 1.2), (1.199, -1.45), (1.251, -3), (1.316, -3.9),
              (1.381, -3.75), (1.468, -3), (1.555, -2.5), (1.642, -2.2), (1.729, -1.45), (1.816, -0.6),
              (1.902, 0.15), (1.989, 0.7), (2.097, 0.9), (2.184, 1.3), (2.271, 0.9), (2.358, 0.15),
              (2.445, -0.6), (2.510, -1), (2.597, -0.35), (2.684, 0.4), (2.771, 0.7), (2.858, 0.55), (2.966, 0.9),
              (3.053, 1.45), (3.140, 2), (3.205, 2.25), (3.335, 2.15), (3.443, 2), (3.508, 2), (3.574, 0.9),
              (3.640, 0.15), (3.726, -0.1), (3.813, 0.4), (3.900, -0.1), (3.965, -0.6), (4.0, -1)]

d32411_obs = [(1.000, 0.1), (1.122, 0.04), (1.252, -0.02), (1.360, -0.06), (1.426, 0.1), (1.491, 0.24),
              (1.556, 1.14), (1.608, 2.34), (1.634, 2.74), (1.664, 2.74), (1.686, 2.64), (1.721, 1.94),
              (1.756, 0.74), (1.795, -0.26), (1.825, -1.26), (1.851, -2.26), (1.873, -2.26), (1.903, -1.66),
              (1.938, -1.16), (1.982, -0.66), (2.025, -0.26), (2.068, -0.06), (2.112, 0.04), (2.142, -0.1),
              (2.173, -0.26), (2.229, -0.66), (2.294, -0.96), (2.359, -0.86), (2.403, -0.76), (2.446, -0.26),
              (2.490, 0.54), (2.546, 1.04), (2.598, 1.3), (2.663, 1.04), (2.729, 0.54), (2.794, 0.24),
              (2.859, 0.14), (2.924, 0.14), (2.989, 0.04), (3.076, -0.16), (3.163, -0.46), (3.250, -0.46),
              (3.315, -0.06), (3.358, 0.34), (3.402, 0.44), (3.467, 0.44), (3.554, 0.24), (3.619, -0.26),
              (3.684, -0.66), (3.727, -0.46), (3.771, 0.54), (3.814, 2.34), (3.840, 3.34), (3.866, 2.34),
              (3.892, 1.34), (3.923, -0.26), (3.953, -0.06), (3.988, -0.46), (4.053, -0.26), (4.118, -0.06),
              (4.183, 0.14), (4.249, -0.26), (4.292, -0.86), (4.357, -1.26), (4.422, -1.36), (4.509, -1.26),
              (4.574, -1.06), (4.639, -1.36), (4.705, -0.86), (4.748, -0.06), (4.791, 1.14), (4.856, 1.94),
              (4.900, 2.04), (4.943, 1.74), (5.000, 1.14)]
d32411_sim = [(1.000, 0.1), (1.295, 0.18), (1.469, 0.44), (1.556, 1.14), (1.621, 2.34), (1.651, 2.74),
              (1.686, 2.34), (1.738, 0.74), (1.795, -0.86), (1.860, -1.96), (1.925, -2.26), (1.977, -2.36),
              (2.034, -1.86), (2.099, -0.86), (2.164, -0.26), (2.251, -0.36), (2.360, -0.46), (2.468, -0.46),
              (2.577, -0.42), (2.707, -0.26), (2.816, 0.24), (2.881, 0.34), (2.968, 0.14), (3.055, -0.26),
              (3.142, -0.66), (3.185, -0.7), (3.272, -0.46), (3.381, -0.16), (3.489, 0.14), (3.598, 0.44),
              (3.685, 1.14), (3.750, 2.14), (3.784, 2.44), (3.836, 2.14), (3.902, 1.54), (3.967, 1.44),
              (4.032, 1.94), (4.097, 2.34), (4.162, 1.94), (4.228, 0.94), (4.293, -0.06), (4.380, -0.76),
              (4.467, -0.96), (4.554, -0.76), (4.641, -0.56), (4.728, -0.36), (4.815, -0.16), (4.902, -0.06),
              (5.0, -0.22)]

d32413_obs = [(3.000, 0.07), (3.078, -0.07), (3.165, -0.14), (3.252, -0.07), (3.339, 0.2), (3.404, 0.27),
              (3.469, 0.2), (3.534, 0.34), (3.578, 0.54), (3.621, 1.22), (3.664, 1.9), (3.695, 2.06),
              (3.730, 1.76), (3.756, 0.81), (3.782, -0.27), (3.816, -1.22), (3.851, -1.63), (3.882, -1.9),
              (3.912, -1.36), (3.947, -0.81), (3.982, -0.27), (4.025, 0.14), (4.077, 0.34), (4.121, 0.2),
              (4.164, 0), (4.207, -0.27), (4.251, -0.54), (4.294, -0.41), (4.338, -0.27), (4.381, -0.2),
              (4.433, 0.14), (4.477, 0.41), (4.520, 0.34), (4.576, 0.61), (4.620, 0.54), (4.663, 0.14),
              (4.707, -0.07), (4.750, -0.14), (4.815, 0), (4.902, -0.07), (4.989, -0.14), (5.076, -0.27),
              (5.141, -0.47), (5.206, -0.34), (5.271, -0.27), (5.336, -0.14), (5.402, 0), (5.467, 0.34),
              (5.532, 0.47), (5.597, 0.54), (5.662, 0.47), (5.706, 0.27), (5.749, 0.14), (5.793, 0.95),
              (5.836, 1.49), (5.879, 1.42), (5.923, 0.68), (5.966, 0.14), (6.010, 0.27), (6.053, 0.34),
              (6.097, 0.27), (6.140, -0.14), (6.183, -0.41), (6.227, -0.68), (6.292, -0.88), (6.357, -1.09),
              (6.401, -1.22), (6.444, -1.02), (6.500, -0.95), (6.553, -0.68), (6.605, 0.14), (6.639, -0.07),
              (6.683, -0.2), (6.748, 0.07), (6.813, 0.2), (6.878, 0.34), (6.943, 0.34), (7.000, 0.41)]
d32413_sim = [(3.000, 0.03), (3.252, 0.07), (3.425, 0.2), (3.534, 0.54), (3.599, 1.22), (3.656, 2.0),
              (3.695, 1.9), (3.738, 0.95), (3.782, -0.41), (3.825, -1.22), (3.869, -1.7), (3.925, -1.49),
              (3.990, -1.22), (4.056, -0.61), (4.121, -0.2), (4.186, -0.04), (4.251, -0.2), (4.316, -0.27),
              (4.381, 0), (4.447, 0.14), (4.512, 0), (4.577, -0.34), (4.642, -0.61), (4.707, -0.34),
              (4.772, 0.07), (4.859, 0.27), (4.924, 0.14), (4.989, -0.07), (5.076, -0.27), (5.163, -0.34),
              (5.250, -0.3), (5.336, -0.34), (5.402, -0.41), (5.467, -0.27), (5.532, 0.14), (5.597, 0.61),
              (5.662, 1.09), (5.727, 1.56), (5.784, 1.74), (5.836, 1.49), (5.901, 0.95), (5.966, 0.61),
              (6.032, 0.75), (6.097, 0.75), (6.140, 0.54), (6.205, 0.14), (6.292, -0.27), (6.379, -0.47),
              (6.444, -0.47), (6.531, -0.3), (6.596, -0.34), (6.683, -0.47), (6.748, -0.41), (6.813, -0.14),
              (6.900, 0.14), (7.0, 0.41)]

d32412_obs = [(5.000, -0.01), (5.078, -0.08), (5.165, -0.05), (5.252, -0.11), (5.317, -0.05), (5.360, 0.02),
              (5.391, 0.15), (5.426, 0.28), (5.460, 0.80), (5.491, 1.08), (5.521, 1.15), (5.556, 1.05),
              (5.591, 0.54), (5.621, 0.02), (5.651, -0.37), (5.686, -0.43), (5.721, -0.56), (5.751, -0.63),
              (5.773, -0.11), (5.795, 0.15), (5.816, 0.02), (5.851, -0.05), (5.882, -0.11), (5.912, -0.37),
              (5.947, -0.50), (5.990, -0.43), (6.034, -0.50), (6.077, -0.50), (6.121, -0.56), (6.151, -0.72),
              (6.186, -0.56), (6.229, -0.37), (6.272, -0.37), (6.316, -0.11), (6.359, 0.21), (6.403, 0.34),
              (6.446, 0.47), (6.490, 0.41), (6.533, 0.37), (6.577, 0.34), (6.620, 0.41), (6.663, 0.37),
              (6.707, 0.28), (6.750, 0.34), (6.794, 0.41), (6.837, 0.47), (6.859, 0.60), (6.881, 0.54),
              (6.924, 0.41), (6.989, 0.21), (7.033, 0.02), (7.076, -0.17), (7.120, -0.30), (7.163, -0.37),
              (7.207, -0.50), (7.250, -0.56), (7.293, -0.53), (7.337, -0.17), (7.380, -0.11), (7.424, -0.05),
              (7.476, -0.11), (7.519, -0.24), (7.563, -0.11), (7.597, 0.02), (7.641, 0.21), (7.675, 0.47),
              (7.706, 0.28), (7.736, 0.02), (7.771, -0.11), (7.806, -0.37), (7.836, -0.24), (7.880, 0.02),
              (7.923, 0.54), (7.953, 0.92), (7.979, 0.41), (8.009, 0.80), (8.031, 0.66), (8.053, 0.28),
              (8.083, -0.05), (8.118, -0.11), (8.162, 0.02), (8.205, -0.05), (8.249, -0.24), (8.292, -0.37),
              (8.336, -0.11), (8.379, -0.05), (8.422, -0.08), (8.466, -0.05), (8.500, -0.11), (8.531, -0.11),
              (8.574, 0.28), (8.618, 0.47), (8.661, 0.34), (8.696, 0.02), (8.726, -0.37)]
d32412_sim = [(5.000, 0.05), (5.122, 0.07), (5.252, 0.12), (5.339, 0.21), (5.404, 0.41), (5.447, 0.76),
              (5.478, 0.99), (5.512, 0.89), (5.556, 0.54), (5.599, 0.02), (5.643, -0.24), (5.686, -0.14),
              (5.730, -0.24), (5.795, -0.50), (5.860, -0.63), (5.925, -0.50), (5.981, -0.30), (6.012, -0.37),
              (6.056, -0.50), (6.112, -0.69), (6.155, -0.79), (6.208, -0.63), (6.273, -0.43), (6.360, -0.24),
              (6.468, -0.11), (6.577, -0.01), (6.686, 0.15), (6.751, 0.25), (6.816, 0.21), (6.881, 0.08),
              (6.946, -0.05), (7.011, -0.08), (7.076, -0.14), (7.141, -0.30), (7.207, -0.43), (7.272, -0.53),
              (7.337, -0.24), (7.402, 0.15), (7.467, 0.47), (7.532, 0.63), (7.619, 0.70), (7.706, 0.73),
              (7.793, 0.79), (7.858, 0.89), (7.923, 1.0), (7.988, 0.86), (8.040, 0.60), (8.097, 0.47),
              (8.140, 0.44), (8.184, 0.37), (8.227, 0.15), (8.292, -0.11), (8.336, -0.30), (8.379, -0.34),
              (8.444, -0.24), (8.510, -0.11), (8.575, -0.08), (8.640, -0.08), (8.727, -0.11), (8.814, -0.11),
              (8.901, -0.14), (8.966, -0.21), (9.0, -0.27)]

station_names = ["Salina Cruz", "Huatulco", "Puerto  Angel", "Acapulco CDY", "Lazaro Cardenas", "Puerto Vallarta",
                 "Acajutla", "La Libertad_ES", "Quepos", "Baltra", "Santa Cruz", "La Libertad_EC",
                 "Talara", "Callao", "D-43413", "D-32411", "D-32413", "D-32412"]

# blue horizontal bars: (x start, x end, level) in data units
bars = {"Acajutla": (1.18, 2.05, 18.2), "Quepos": (2.04, 2.84, 15), "Baltra": (2.76, 3.38, 28),
        "La Libertad_EC": (4.04, 4.80, 14.5), "Lazaro Cardenas": (1.21, 2.07, 20),
        "Puerto Vallarta": (2.17, 3.42, 10.7), "D-43413": (0.83, 1.47, 10.2), "D-32411": (1.45, 2.04, 3.55),
        "D-32413": (3.40, 4.01, 2.44), "D-32412": (5.35, 5.89, 1.37)}


def split(pairs):
    return [p[0] for p in pairs], [p[1] for p in pairs]


series = [
    (salina_t, salina_obs, salina_t, salina_sim),
    split(huatulco_obs) + split(huatulco_sim),
    split(angel_obs) + split(angel_sim),
    split(acapulco_obs) + split(acapulco_sim),
    split(lazaro_obs) + split(lazaro_sim),
    split(vallarta_obs) + split(vallarta_sim),
    split(acajutla_obs) + split(acajutla_sim),
    split(libertad_es_obs) + split(libertad_es_sim),
    split(quepos_obs) + split(quepos_sim),
    split(baltra_obs) + split(baltra_sim),
    split(santacruz_obs) + split(santacruz_sim),
    split(libertad_ec_obs) + split(libertad_ec_sim),
    split(talara_obs) + split(talara_sim),
    split(callao_obs) + split(callao_sim),
    split(d43413_obs) + split(d43413_sim),
    split(d32411_obs) + split(d32411_sim),
    split(d32413_obs) + split(d32413_sim),
    split(d32412_obs) + split(d32412_sim),
]

x_ranges = [(0, 4)] * 6 + [(0, 4), (0, 4), (1, 5), (2, 6), (2.5, 6.5), (3, 7)] + \
           [(3, 7), (5, 9), (0, 4), (1, 5), (3, 7), (5, 9)]
x_ticks = [[0, 1, 2, 3, 4]] * 6 + [[0, 1, 2, 3, 4], [0, 1, 2, 3, 4], [1, 2, 3, 4, 5], [2, 3, 4, 5, 6],
                                   [3, 4, 5, 6], [3, 4, 5, 6, 7]] + \
          [[3, 4, 5, 6, 7], [5, 6, 7, 8, 9], [0, 1, 2, 3, 4], [1, 2, 3, 4, 5], [3, 4, 5, 6, 7], [5, 6, 7, 8, 9]]
show_xlabels = [False] * 5 + [True] + [False] + [True] * 5 + [True] * 6
y_ranges = [(-116, 143), (-104.5, 67.6), (-46, 36.4), (-112.6, 111), (-24.3, 30.2), (-15.2, 14.9),
            (-24.4, 19.7), (-19.7, 20.1), (-20, 20.1), (-35.7, 30.1), (-38.5, 29.8), (-24.8, 24.3),
            (-21.9, 18.1), (-19.7, 19.8), (-7.07, 9.85), (-3.0, 3.58), (-2.2, 2.24), (-0.88, 1.2)]
y_ticks = [[-80, 0, 80], [-60, 0, 60], [-30, 0, 30], [-80, 0, 80], [-20, 0, 20], [-10, 0, 10],
           [-15, 0, 15], [-15, 0, 15], [-15, 0, 15], [-20, 0, 20], [-20, 0, 20], [-20, 0, 20],
           [-15, 0, 15], [-15, 0, 15], [-6, 0, 6], [-2, 0, 2], [-2, 0, 2], [-0.7, 0.0, 0.7]]
title_yshift = [2.5, 6.5, -16, 0, 3, 4, 2.5, 8, -10, 0, -2, -3, 2.5, 0, -14, 0, 1, 2.5]
title_xshift = [2, 5, 9]

# ------------------------------------------------------------------ layout geometry
W, H = 1214, 944
col_px = [(92, 398), (489.3, 796), (887.3, 1194.3)]
row_px = [(20, 127), (169, 276), (318, 426), (467, 575), (616, 724), (766, 873)]
FONT = "Liberation Sans, Arial, Helvetica, sans-serif"
BLACK_LINE = "#111111"
RED_LINE = "#e3201b"
BLUE = "#1c9ad6"


def fmt_tick(v, decimals):
    s = f"{abs(v):.{decimals}f}"
    return ("\u2212" + s) if v < 0 else s


fig = go.Figure()
layout = dict(width=W, height=H, margin=dict(l=0, r=0, t=0, b=0), paper_bgcolor="white",
              plot_bgcolor="white", showlegend=False, font=dict(family=FONT, color="black"),
              annotations=[], shapes=[])

for i in range(18):
    n = i + 1
    col, row = divmod(i, 6)
    xs = "" if n == 1 else str(n)
    xt, xo, st, so = series[i]
    fig.add_trace(go.Scatter(x=xt, y=xo, mode="lines", line=dict(color=BLACK_LINE, width=2),
                             xaxis="x" + xs, yaxis="y" + xs, hoverinfo="skip"))
    fig.add_trace(go.Scatter(x=st, y=so, mode="lines", line=dict(color=RED_LINE, width=2),
                             xaxis="x" + xs, yaxis="y" + xs, hoverinfo="skip"))

    x0p, x1p = col_px[col]
    y0p, y1p = row_px[row]
    dec = 1 if n == 18 else 0
    layout["xaxis" + xs] = dict(
        domain=[x0p / W, x1p / W], range=list(x_ranges[i]), anchor="y" + xs,
        tickvals=x_ticks[i], ticktext=[str(v) for v in x_ticks[i]],
        showticklabels=show_xlabels[i], ticks="inside", ticklen=10, tickwidth=2, tickcolor="black",
        showline=True, linewidth=3, linecolor="black", showgrid=False, zeroline=False,
        tickfont=dict(size=22, family=FONT, color="#1a1a1a"), ticklabelstandoff=6, fixedrange=True)
    layout["yaxis" + xs] = dict(
        domain=[1 - y1p / H, 1 - y0p / H], range=list(y_ranges[i]), anchor="x" + xs,
        tickvals=y_ticks[i], ticktext=[fmt_tick(v, dec) for v in y_ticks[i]],
        ticks="inside", ticklen=10, tickwidth=2, tickcolor="black",
        showline=True, linewidth=3, linecolor="black", showgrid=False, zeroline=False,
        tickfont=dict(size=22, family=FONT, color="#1a1a1a"), ticklabelstandoff=10, fixedrange=True)

    name = station_names[i]
    layout["annotations"].append(dict(
        text=name, x=1, y=1, xref="x" + xs + " domain", yref="y" + xs + " domain",
        xanchor="right", yanchor="middle", showarrow=False, xshift=title_xshift[col],
        yshift=title_yshift[i], font=dict(size=27, family=FONT, color="#1a1a1a")))

    if name in bars:
        bx0, bx1, by = bars[name]
        xr, yr = x_ranges[i], y_ranges[i]
        fy = (by - yr[0]) / (yr[1] - yr[0])
        layout["shapes"].append(dict(
            type="line", xref="x" + xs + " domain", yref="y" + xs + " domain",
            x0=(bx0 - xr[0]) / (xr[1] - xr[0]), x1=(bx1 - xr[0]) / (xr[1] - xr[0]), y0=fy, y1=fy,
            line=dict(color=BLUE, width=4)))

layout["annotations"].append(dict(
    text="Sea level (cm)", x=18 / W, y=1 - 765 / H, xref="paper", yref="paper", textangle=-90,
    xanchor="center", yanchor="middle", showarrow=False, font=dict(size=27, family=FONT, color="#1a1a1a")))
layout["annotations"].append(dict(
    text="Time (h after origin time)", x=256 / W, y=1 - 927 / H, xref="paper", yref="paper",
    xanchor="center", yanchor="middle", showarrow=False, font=dict(size=27, family=FONT, color="#1a1a1a")))

fig.update_layout(**layout)
fig.write_html("out.html")
